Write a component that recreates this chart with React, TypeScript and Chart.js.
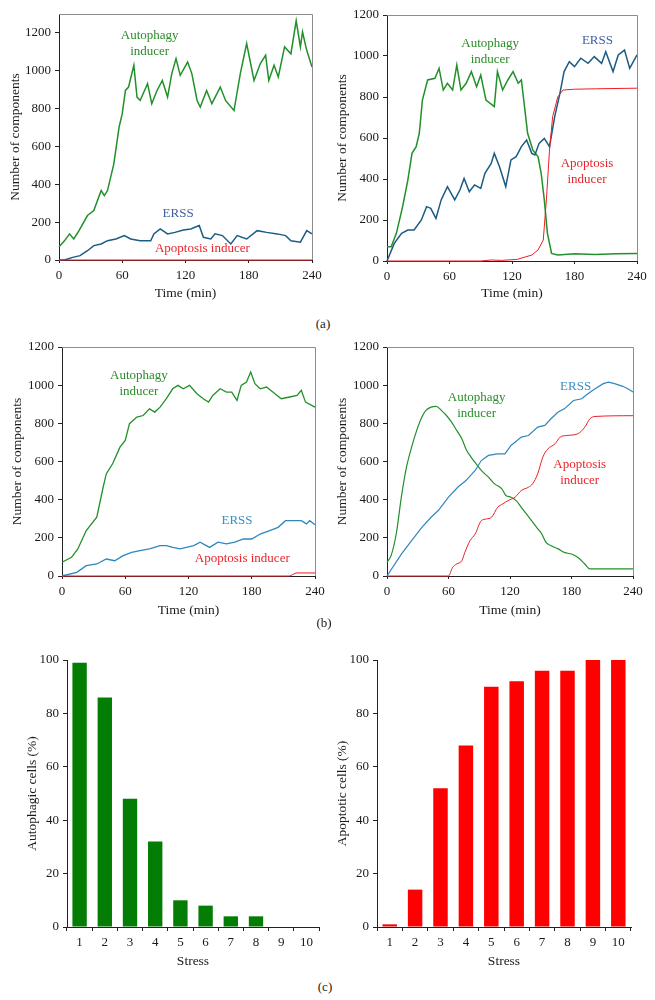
import React, { useEffect, useRef } from 'react';
import { Chart, registerables } from 'chart.js';
Chart.register(...registerables);

const FONT = "'Liberation Serif', 'DejaVu Serif', serif";

// ---------- (a) left ----------
const A1_AUTO_T = [0, 5, 10, 14, 19, 27, 33, 40, 43, 46, 52, 57, 60, 63, 66, 71, 74, 77, 84, 88, 93, 98, 103, 107, 111, 115, 122, 126, 131, 134, 140, 145, 153, 158, 166, 172, 178, 185, 191, 196, 199, 204, 208, 214, 220, 225, 229, 231, 235, 240];
const A1_AUTO_V = [70, 100, 138, 111, 155, 235, 261, 367, 340, 367, 508, 702, 773, 896, 914, 1029, 861, 843, 932, 826, 896, 949, 861, 985, 1064, 976, 1046, 985, 843, 808, 896, 826, 914, 843, 790, 985, 1144, 949, 1038, 1082, 949, 1029, 967, 1126, 1090, 1264, 1126, 1205, 1108, 1020];
const A1_ERSS_T = [0, 5, 13, 20, 27, 33, 40, 46, 54, 62, 68, 77, 87, 90, 96, 103, 110, 118, 125, 133, 137, 144, 148, 155, 163, 169, 178, 188, 197, 207, 215, 220, 229, 235, 240];
const A1_ERSS_V = [0, 0, 14, 23, 49, 76, 85, 102, 111, 129, 111, 102, 102, 138, 164, 138, 146, 159, 164, 182, 120, 111, 138, 129, 85, 129, 111, 155, 146, 138, 129, 102, 94, 155, 138];
const A1_APOP_T = [0, 240];
const A1_APOP_V = [0, 0];

// ---------- (a) right ----------
const A2_AUTO_T = [0, 4, 9, 15, 20, 24, 28, 31, 34, 39, 46, 50, 54, 58, 63, 67, 71, 76, 81, 86, 90, 95, 103, 106, 111, 116, 121, 126, 129, 132, 135, 140, 145, 148, 151, 154, 158, 164, 180, 200, 220, 240];
const A2_AUTO_V = [70, 70, 135, 265, 395, 525, 558, 623, 785, 883, 891, 940, 834, 867, 834, 956, 834, 867, 924, 850, 907, 785, 753, 924, 834, 883, 924, 867, 883, 753, 623, 541, 509, 428, 298, 135, 37, 29, 35, 32, 35, 37];
const A2_ERSS_T = [0, 7, 14, 20, 26, 33, 38, 42, 47, 52, 58, 65, 70, 74, 79, 84, 90, 94, 100, 103, 108, 114, 119, 124, 129, 134, 139, 142, 146, 151, 156, 161, 166, 170, 175, 180, 186, 193, 199, 206, 210, 217, 222, 228, 233, 240];
const A2_ERSS_V = [0, 86, 135, 151, 151, 200, 265, 257, 208, 298, 363, 298, 346, 403, 338, 371, 354, 428, 476, 525, 460, 363, 493, 509, 558, 590, 525, 517, 574, 598, 558, 704, 818, 924, 972, 948, 989, 964, 997, 964, 1021, 924, 1005, 1029, 940, 1005];
const A2_APOP_T = [0, 90, 100, 110, 125, 139, 145, 150, 153, 156, 159, 164, 169, 180, 200, 240];
const A2_APOP_V = [0, 0, 5, 3, 8, 29, 54, 102, 298, 541, 704, 801, 834, 838, 840, 843];

// ---------- (b) left ----------
const B1_AUTO_T = [0, 9, 15, 23, 33, 39, 42, 48, 55, 60, 64, 71, 77, 83, 88, 93, 99, 105, 110, 115, 121, 128, 134, 139, 143, 150, 156, 161, 166, 170, 175, 179, 183, 188, 194, 200, 208, 216, 223, 227, 231, 240];
const B1_AUTO_V = [72, 98, 142, 238, 308, 465, 535, 588, 675, 710, 798, 833, 841, 876, 859, 885, 929, 981, 999, 981, 999, 955, 929, 911, 946, 981, 964, 964, 920, 999, 1016, 1069, 1008, 981, 990, 964, 929, 938, 946, 973, 911, 885];
const B1_ERSS_T = [0, 14, 23, 33, 42, 50, 58, 66, 74, 83, 93, 99, 105, 112, 118, 125, 131, 140, 148, 156, 164, 172, 180, 188, 197, 205, 212, 218, 227, 232, 235, 240];
const B1_ERSS_V = [0, 19, 54, 63, 89, 80, 107, 124, 133, 142, 159, 159, 150, 142, 150, 159, 177, 150, 177, 168, 177, 194, 194, 220, 238, 255, 290, 290, 290, 273, 290, 269];
const B1_APOP_T = [0, 216, 219, 222, 240];
const B1_APOP_V = [0, 0, 8, 16, 16];

// ---------- (b) right ----------
const B2_AUTO_T = [0, 4, 9, 14, 19, 24, 29, 34, 38, 43, 48, 53, 58, 63, 68, 73, 77, 82, 87, 92, 99, 105, 112, 116, 121, 126, 131, 136, 141, 146, 151, 155, 160, 167, 173, 180, 186, 193, 198, 240];
const B2_AUTO_V = [72, 107, 220, 413, 570, 675, 763, 833, 868, 885, 889, 868, 841, 806, 763, 719, 666, 623, 588, 553, 518, 483, 457, 422, 413, 395, 360, 325, 290, 255, 220, 177, 159, 142, 124, 115, 98, 63, 37, 37];
const B2_ERSS_T = [0, 14, 24, 34, 43, 50, 60, 69, 77, 86, 92, 99, 108, 115, 121, 131, 138, 147, 154, 160, 167, 173, 182, 190, 196, 203, 211, 216, 222, 230, 235, 240];
const B2_ERSS_V = [0, 115, 185, 255, 308, 343, 413, 465, 500, 553, 605, 632, 640, 640, 684, 728, 736, 780, 789, 824, 859, 876, 920, 929, 955, 981, 1008, 1016, 1008, 994, 981, 964];
const B2_APOP_T = [0, 60, 64, 68, 73, 76, 81, 86, 92, 97, 102, 108, 113, 118, 125, 131, 138, 142, 147, 152, 157, 164, 169, 175, 186, 193, 198, 203, 240];
const B2_APOP_V = [0, 0, 45, 63, 80, 124, 185, 220, 290, 299, 308, 360, 378, 395, 413, 448, 465, 483, 535, 623, 666, 693, 728, 736, 745, 780, 824, 836, 840];

// ---------- (c) ----------
const STRESS = ['1', '2', '3', '4', '5', '6', '7', '8', '9', '10'];
const AUTOPHAGIC = [99, 86, 48, 32, 10, 8, 4, 4, 0, 0];
const APOPTOTIC = [1, 14, 52, 68, 90, 92, 96, 96, 100, 100];

const TIME_TICKS_STEP = 60;
const COMP_TICKS_STEP = 200;
const PCT_TICKS_STEP = 20;

const C_GREEN = '#22902a';
const C_BLUE_A = '#1c5b82';
const C_BLUE_B = '#2e87bd';
const C_RED = '#ee1d24';
const T_GREEN = '#2a8c2a';
const T_BLUE_A = '#3f5f9e';
const T_BLUE_B = '#3a8fc4';
const T_RED = '#e8252b';

const pts = (t: number[], v: number[]) => t.map((x, i) => ({ x, y: v[i] }));

const labelPlugin = {
  id: 'seriesLabels',
  afterDatasetsDraw(chart: any, _a: any, opts: any) {
    const items = (opts && opts.items) || [];
    const { ctx, scales } = chart;
    ctx.save();
    ctx.font = `13px ${FONT}`;
    ctx.textAlign = 'center';
    ctx.textBaseline = 'middle';
    for (const l of items) {
      const px = scales.x.getPixelForValue(l.x);
      const py = scales.y.getPixelForValue(l.y);
      ctx.fillStyle = l.color;
      l.lines.forEach((s: string, i: number) => ctx.fillText(s, px, py + i * 16));
    }
    ctx.restore();
  },
};

const framePlugin = {
  id: 'frame',
  afterDraw(chart: any, _a: any, opts: any) {
    if (!opts || !opts.on) return;
    const { ctx, chartArea } = chart;
    const { left, top, right, bottom } = chartArea;
    ctx.save();
    ctx.strokeStyle = '#8c8c8c';
    ctx.lineWidth = 1;
    ctx.beginPath();
    ctx.moveTo(left, Math.round(top) + 0.5);
    ctx.lineTo(Math.round(right) + 0.5, Math.round(top) + 0.5);
    ctx.lineTo(Math.round(right) + 0.5, bottom);
    ctx.stroke();
    ctx.restore();
  },
};

const YW = 55;
const XH = 45;
const PT = 12;
const PR = 22;

type Box = { l: number; t: number; r: number; b: number };

function ChartCanvas({ box, make }: { box: Box; make: () => any }) {
  const ref = useRef<HTMLCanvasElement | null>(null);
  const left = box.l - YW;
  const top = box.t - PT;
  const width = Math.round(box.r - box.l + YW + PR);
  const height = Math.round(box.b - box.t + PT + XH);
  useEffect(() => {
    const c = new Chart(ref.current as HTMLCanvasElement, make());
    return () => c.destroy();
  }, []);
  return (
    <canvas
      ref={ref}
      width={width}
      height={height}
      style={{ position: 'absolute', left, top, width, height, display: 'block' }}
    />
  );
}

const tickFont = { family: FONT, size: 13 };
const titleFont = { family: FONT, size: 13.5 };

function axisCommon() {
  return {
    grid: { drawOnChartArea: false, tickLength: 4, color: '#222' },
    border: { color: '#222', width: 1 },
  };
}

function lineConfig(
  box: Box,
  yMax: number,
  series: { data: any[]; color: string; width: number; smooth?: boolean }[],
  labels: any[],
  yTitleX: number,
  xTitleY: number
) {
  const lh = 13.5 * 1.2;
  const padY = yTitleX - (box.l - YW) - lh / 2;
  const padX = box.b + XH - lh / 2 - xTitleY;
  return () => ({
    type: 'line',
    data: {
      datasets: series.map((s) => ({
        data: s.data,
        borderColor: s.color,
        borderWidth: s.width,
        pointRadius: 0,
        fill: false,
        tension: s.smooth ? 0.35 : 0,
        cubicInterpolationMode: s.smooth ? 'monotone' : 'default',
        clip: 4,
      })),
    },
    options: {
      animation: false,
      responsive: false,
      maintainAspectRatio: false,
      layout: { padding: { left: 0, top: PT, right: PR, bottom: 0 } },
      plugins: {
        legend: { display: false },
        tooltip: { enabled: false },
        seriesLabels: { items: labels },
        frame: { on: true },
      },
      scales: {
        x: {
          type: 'linear',
          min: 0,
          max: 240,
          afterFit: (s: any) => {
            s.height = XH;
          },
          ticks: {
            stepSize: TIME_TICKS_STEP,
            color: '#1a1a1a',
            font: tickFont,
            padding: 5,
            maxRotation: 0,
            autoSkip: false,
            callback: (v: any) => String(v),
          },
          ...axisCommon(),
          grid: { drawOnChartArea: false, tickLength: 3, color: '#222' },
          title: {
            display: true,
            text: 'Time (min)',
            color: '#1a1a1a',
            font: titleFont,
            padding: { top: 0, bottom: padX },
          },
        },
        y: {
          type: 'linear',
          min: 0,
          max: yMax,
          afterFit: (s: any) => {
            s.width = YW;
          },
          ticks: {
            stepSize: COMP_TICKS_STEP,
            includeBounds: false,
            color: '#1a1a1a',
            font: tickFont,
            padding: 4,
            callback: (v: any) => String(v),
          },
          ...axisCommon(),
          title: {
            display: true,
            text: 'Number of components',
            color: '#1a1a1a',
            font: titleFont,
            padding: { top: padY, bottom: 0 },
          },
        },
      },
    },
    plugins: [labelPlugin, framePlugin],
  });
}

function barConfig(box: Box, values: number[], color: string, yTitle: string, yTitleX: number, xTitleY: number) {
  const lh = 13.5 * 1.2;
  const padY = yTitleX - (box.l - YW) - lh / 2;
  const padX = box.b + XH - lh / 2 - xTitleY;
  return () => ({
    type: 'bar',
    data: {
      labels: STRESS,
      datasets: [
        {
          data: values,
          backgroundColor: color,
          borderWidth: 0,
          barPercentage: 0.57,
          categoryPercentage: 1,
        },
      ],
    },
    options: {
      animation: false,
      responsive: false,
      maintainAspectRatio: false,
      layout: { padding: { left: 0, top: PT, right: PR, bottom: 0 } },
      plugins: { legend: { display: false }, tooltip: { enabled: false } },
      scales: {
        x: {
          afterFit: (s: any) => {
            s.height = XH;
          },
          ticks: { color: '#1a1a1a', font: tickFont, padding: 4, maxRotation: 0, autoSkip: false },
          ...axisCommon(),
          grid: { drawOnChartArea: false, tickLength: 4, color: '#222', offset: true },
          title: {
            display: true,
            text: 'Stress',
            color: '#1a1a1a',
            font: titleFont,
            padding: { top: 0, bottom: padX },
          },
        },
        y: {
          min: 0,
          max: 100,
          afterFit: (s: any) => {
            s.width = YW;
          },
          ticks: {
            stepSize: PCT_TICKS_STEP,
            color: '#1a1a1a',
            font: tickFont,
            padding: 4,
            callback: (v: any) => String(v),
          },
          ...axisCommon(),
          title: {
            display: true,
            text: yTitle,
            color: '#1a1a1a',
            font: titleFont,
            padding: { top: padY, bottom: 0 },
          },
        },
      },
    },
  });
}

const BOX_A1: Box = { l: 58.5, t: 14, r: 311.5, b: 259.5 };
const BOX_A2: Box = { l: 387.3, t: 15, r: 637.3, b: 261 };
const BOX_B1: Box = { l: 62.3, t: 346.7, r: 315, b: 575.3 };
const BOX_B2: Box = { l: 387.3, t: 346.7, r: 633.3, b: 575.3 };
const BOX_C1: Box = { l: 66.7, t: 660, r: 319, b: 926.7 };
const BOX_C2: Box = { l: 376.7, t: 660, r: 630.7, b: 926.7 };

const A1 = lineConfig(
  BOX_A1,
  1300,
  [
    { data: pts(A1_APOP_T, A1_APOP_V), color: C_RED, width: 1.2 },
    { data: pts(A1_ERSS_T, A1_ERSS_V), color: C_BLUE_A, width: 1.5 },
    { data: pts(A1_AUTO_T, A1_AUTO_V), color: C_GREEN, width: 1.5 },
  ],
  [
    { lines: ['Autophagy', 'inducer'], x: 86, y: 1184, color: T_GREEN },
    { lines: ['ERSS'], x: 113, y: 246, color: T_BLUE_A },
    { lines: ['Apoptosis inducer'], x: 136, y: 61, color: T_RED },
  ],
  15,
  293
);

const A2 = lineConfig(
  BOX_A2,
  1200,
  [
    { data: pts(A2_APOP_T, A2_APOP_V), color: C_RED, width: 1 },
    { data: pts(A2_ERSS_T, A2_ERSS_V), color: C_BLUE_A, width: 1.5 },
    { data: pts(A2_AUTO_T, A2_AUTO_V), color: C_GREEN, width: 1.5 },
  ],
  [
    { lines: ['Autophagy', 'inducer'], x: 99, y: 1063, color: T_GREEN },
    { lines: ['ERSS'], x: 202, y: 1073, color: T_BLUE_A },
    { lines: ['Apoptosis', 'inducer'], x: 192, y: 473, color: T_RED },
  ],
  343,
  293
);

const B1 = lineConfig(
  BOX_B1,
  1200,
  [
    { data: pts(B1_APOP_T, B1_APOP_V), color: C_RED, width: 1 },
    { data: pts(B1_ERSS_T, B1_ERSS_V), color: C_BLUE_B, width: 1.3 },
    { data: pts(B1_AUTO_T, B1_AUTO_V), color: C_GREEN, width: 1.3 },
  ],
  [
    { lines: ['Autophagy', 'inducer'], x: 73, y: 1051, color: T_GREEN },
    { lines: ['ERSS'], x: 166, y: 290, color: T_BLUE_B },
    { lines: ['Apoptosis inducer'], x: 171, y: 91, color: T_RED },
  ],
  18,
  610
);

const B2 = lineConfig(
  BOX_B2,
  1200,
  [
    { data: pts(B2_APOP_T, B2_APOP_V), color: C_RED, width: 1, smooth: true },
    { data: pts(B2_ERSS_T, B2_ERSS_V), color: C_BLUE_B, width: 1.2 },
    { data: pts(B2_AUTO_T, B2_AUTO_V), color: C_GREEN, width: 1.2, smooth: true },
  ],
  [
    { lines: ['Autophagy', 'inducer'], x: 87.5, y: 936, color: T_GREEN },
    { lines: ['ERSS'], x: 184, y: 994, color: T_BLUE_B },
    { lines: ['Apoptosis', 'inducer'], x: 188, y: 584, color: T_RED },
  ],
  343,
  610
);

const C1 = barConfig(BOX_C1, AUTOPHAGIC, '#037d03', 'Autophagic cells (%)', 32, 961);
const C2 = barConfig(BOX_C2, APOPTOTIC, '#ff0000', 'Apoptotic cells (%)', 342, 961);

function PanelLabel({ x, y, text }: { x: number; y: number; text: string }) {
  return (
    <div
      style={{
        position: 'absolute',
        left: x - 20,
        top: y - 8,
        width: 40,
        height: 16,
        lineHeight: '16px',
        textAlign: 'center',
        fontFamily: FONT,
        fontSize: 13,
        color: '#1a1a1a',
      }}
    >
      {text}
    </div>
  );
}

export default function App() {
  return (
    <div style={{ position: 'absolute', left: 0, top: 0, width: 655, height: 1000, background: '#fff', overflow: 'hidden' }}>
      <ChartCanvas box={BOX_A1} make={A1} />
      <ChartCanvas box={BOX_A2} make={A2} />
      <ChartCanvas box={BOX_B1} make={B1} />
      <ChartCanvas box={BOX_B2} make={B2} />
      <ChartCanvas box={BOX_C1} make={C1} />
      <ChartCanvas box={BOX_C2} make={C2} />
      <PanelLabel x={323} y={324} text="(a)" />
      <PanelLabel x={324} y={623} text="(b)" />
      <PanelLabel x={325} y={987} text="(c)" />
    </div>
  );
}
